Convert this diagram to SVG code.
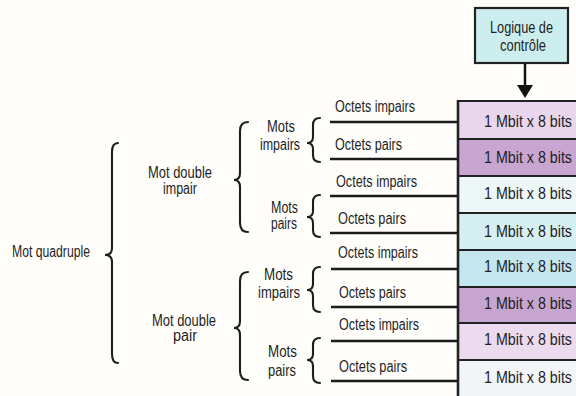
<svg xmlns="http://www.w3.org/2000/svg" width="576" height="396" viewBox="0 0 576 396">
<style>
text{font-family:"Liberation Sans Narrow","Liberation Sans",Arial,sans-serif;font-size:16px;fill:#1e1e1e}
.br{fill:none;stroke:#1e1e1e;stroke-width:2.1;stroke-linecap:round}
.ln{stroke:#1a1a1a;stroke-width:2.6}
.row{stroke:#222;stroke-width:2}
</style>
<rect width="576" height="396" fill="#fffefb"/>
<g id="control">
<rect x="475" y="8" width="93" height="55" fill="#cdeeee" stroke="#222" stroke-width="2.2"/>
<text x="490" y="33" textLength="63" lengthAdjust="spacingAndGlyphs">Logique de</text>
<text x="500" y="51" textLength="46" lengthAdjust="spacingAndGlyphs">contrôle</text>
</g>
<g id="connectors">
<line x1="525" y1="63" x2="525" y2="86" stroke="#111" stroke-width="2.5"/>
<polygon points="517,85 533,85 525,98" fill="#111"/>
<line class="ln" x1="330" y1="122" x2="458" y2="122"/>
<line class="ln" x1="330" y1="159" x2="458" y2="159"/>
<line class="ln" x1="330" y1="196" x2="458" y2="196"/>
<line class="ln" x1="330" y1="233" x2="458" y2="233"/>
<line class="ln" x1="331" y1="269" x2="458" y2="269"/>
<line class="ln" x1="331" y1="307" x2="458" y2="307"/>
<line class="ln" x1="331" y1="341" x2="458" y2="341"/>
<line class="ln" x1="331" y1="381" x2="458" y2="381"/>
</g>
<g id="braces">
<path class="br" d="M118,143 Q112,143 112,152 L112,248 Q112,255 105,255 Q112,255 112,262 L112,354 Q112,363 118,363"/>
<path class="br" d="M248,122 Q240,122 240,131 L240,173 Q240,180 234,180 Q240,180 240,187 L240,223 Q240,232 248,232"/>
<path class="br" d="M248,272 Q240,272 240,281 L240,321 Q240,328 234,328 Q240,328 240,335 L240,371 Q240,380 248,380"/>
<path class="br" d="M320,118 Q313,118 313,125 L313,137 Q313,143 307,143 Q313,143 313,149 L313,155 Q313,162 320,162"/>
<path class="br" d="M320,195 Q313,195 313,202 L313,211 Q313,217 307,217 Q313,217 313,223 L313,230 Q313,237 320,237"/>
<path class="br" d="M320,267 Q313,267 313,274 L313,284 Q313,290 307,290 Q313,290 313,296 L313,305 Q313,312 320,312"/>
<path class="br" d="M320,338 Q313,338 313,345 L313,354 Q313,360 307,360 Q313,360 313,366 L313,376 Q313,383 320,383"/>
</g>
<g id="memory">
<rect class="row" x="458" y="101" width="124" height="38" fill="#e8d6ec"/>
<rect class="row" x="458" y="139" width="124" height="37" fill="#c9a6d2"/>
<rect class="row" x="458" y="176" width="124" height="37" fill="#edf7f8"/>
<rect class="row" x="458" y="213" width="124" height="37" fill="#d6eff2"/>
<rect class="row" x="458" y="250" width="124" height="37" fill="#c3e6ef"/>
<rect class="row" x="458" y="287" width="124" height="36" fill="#c7a5d1"/>
<rect class="row" x="458" y="323" width="124" height="37" fill="#ecdbee"/>
<rect class="row" x="458" y="360" width="124" height="40" fill="#f3f6f8"/>
<line x1="458" y1="100" x2="458" y2="396" stroke="#222" stroke-width="2.6"/>
<text x="484" y="127" textLength="88" lengthAdjust="spacingAndGlyphs">1 Mbit x 8 bits</text>
<text x="484" y="163" textLength="88" lengthAdjust="spacingAndGlyphs">1 Mbit x 8 bits</text>
<text x="484" y="199" textLength="88" lengthAdjust="spacingAndGlyphs">1 Mbit x 8 bits</text>
<text x="484" y="237" textLength="88" lengthAdjust="spacingAndGlyphs">1 Mbit x 8 bits</text>
<text x="484" y="272" textLength="88" lengthAdjust="spacingAndGlyphs">1 Mbit x 8 bits</text>
<text x="484" y="309" textLength="88" lengthAdjust="spacingAndGlyphs">1 Mbit x 8 bits</text>
<text x="484" y="345" textLength="88" lengthAdjust="spacingAndGlyphs">1 Mbit x 8 bits</text>
<text x="484" y="383" textLength="88" lengthAdjust="spacingAndGlyphs">1 Mbit x 8 bits</text>
</g>
<g id="octets">
<text x="335" y="112" textLength="80" lengthAdjust="spacingAndGlyphs">Octets impairs</text>
<text x="335" y="150" textLength="67" lengthAdjust="spacingAndGlyphs">Octets pairs</text>
<text x="336" y="187" textLength="81" lengthAdjust="spacingAndGlyphs">Octets impairs</text>
<text x="338" y="224" textLength="68" lengthAdjust="spacingAndGlyphs">Octets pairs</text>
<text x="338" y="258" textLength="80" lengthAdjust="spacingAndGlyphs">Octets impairs</text>
<text x="339" y="298" textLength="67" lengthAdjust="spacingAndGlyphs">Octets pairs</text>
<text x="339" y="330" textLength="80" lengthAdjust="spacingAndGlyphs">Octets impairs</text>
<text x="339" y="372" textLength="68" lengthAdjust="spacingAndGlyphs">Octets pairs</text>
</g>
<g id="mots">
<text x="267" y="132" textLength="28" lengthAdjust="spacingAndGlyphs">Mots</text>
<text x="260" y="150" textLength="40" lengthAdjust="spacingAndGlyphs">impairs</text>
<text x="271" y="213" textLength="27" lengthAdjust="spacingAndGlyphs">Mots</text>
<text x="271" y="229" textLength="26" lengthAdjust="spacingAndGlyphs">pairs</text>
<text x="264" y="280" textLength="29" lengthAdjust="spacingAndGlyphs">Mots</text>
<text x="258" y="298" textLength="42" lengthAdjust="spacingAndGlyphs">impairs</text>
<text x="268" y="357" textLength="29" lengthAdjust="spacingAndGlyphs">Mots</text>
<text x="268" y="376" textLength="28" lengthAdjust="spacingAndGlyphs">pairs</text>
</g>
<g id="mots-doubles">
<text x="148" y="178" textLength="64" lengthAdjust="spacingAndGlyphs">Mot double</text>
<text x="163" y="194" textLength="34" lengthAdjust="spacingAndGlyphs">impair</text>
<text x="152" y="326" textLength="64" lengthAdjust="spacingAndGlyphs">Mot double</text>
<text x="173" y="341" textLength="24" lengthAdjust="spacingAndGlyphs">pair</text>
</g>
<g id="quadruple">
<text x="12" y="257" textLength="78" lengthAdjust="spacingAndGlyphs">Mot quadruple</text>
</g>
</svg>
